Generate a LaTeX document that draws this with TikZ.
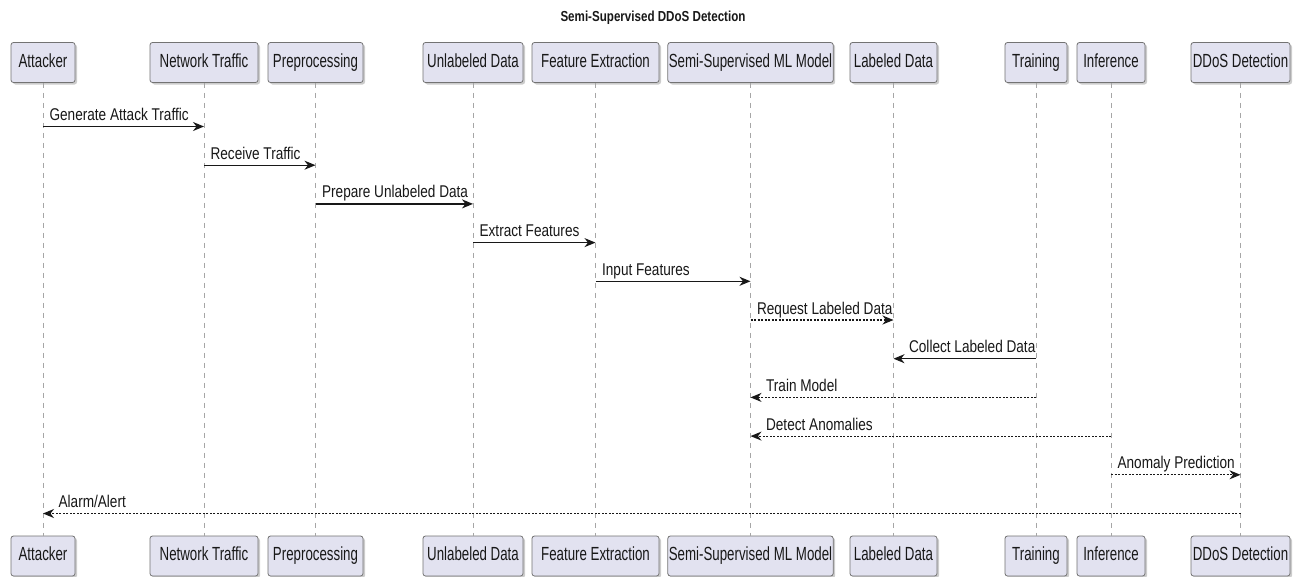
\documentclass[tikz,border=0pt]{standalone}
\usepackage{fontspec}
\usetikzlibrary{arrows.meta,shadows}
\newfontfamily\pfont[FakeStretch=0.7]{Liberation Sans}
\newfontfamily\mfont[FakeStretch=0.8]{Liberation Sans}
\definecolor{pfill}{HTML}{E2E2F0}
\definecolor{ink}{HTML}{181818}
\begin{document}
\begin{tikzpicture}[x=1pt,y=-1pt,
  part/.style={draw=black!55, line width=0.8pt, fill=pfill, rounded corners=2.5pt,
    minimum height=40pt, inner xsep=1pt, text=ink, text height=13.5pt, text depth=4pt,
    font=\pfont\fontsize{19}{21}\selectfont,
    drop shadow={shadow xshift=2pt,shadow yshift=-2pt,opacity=0.2,fill=black}},
  life/.style={draw=black!35, line width=0.8pt, dash pattern=on 5pt off 5pt},
  msg/.style={draw=ink, line width=1.2pt, -{Stealth[length=11pt,width=9pt,inset=3.5pt]}},
  ret/.style={msg, dash pattern=on 2pt off 1.5pt},
  lbl/.style={font=\mfont\fontsize{17}{19}\selectfont, text=ink, inner sep=0pt,
    anchor=base west, yshift=6pt},
  ttl/.style={font=\mfont\bfseries\fontsize{14.5}{16}\selectfont, text=ink, inner sep=0pt}
]
\useasboundingbox (0,0) rectangle (1306,576);
\fill[white] (0,0) rectangle (1306,576);

\node[ttl] (title) at (653,18) {Semi-Supervised DDoS Detection};

% participants (top and bottom)
\foreach \n/\x/\w/\t in {att/43/64/Attacker, net/204/108/Network Traffic,
  pre/315.5/95/Preprocessing, unl/473/100/Unlabeled Data,
  fe/595.5/127/Feature Extraction, ssml/750.5/163/Semi-Supervised ML Model,
  lab/893.5/87/Labeled Data, tra/1036/62/Training, inf/1111/68/Inference,
  dd/1240.5/99/DDoS Detection}{
  \node[part, minimum width=\w pt] (\n) at (\x,62.5) {\t};
  \node[part, minimum width=\w pt] (\n B) at (\x,556) {\t};
  \draw[life] (\n) -- (\n B);
}

% message rows
\foreach \i/\y in {1/126.5,2/165.2,3/203.9,4/242.6,5/281.3,6/320,7/358.7,
  8/397.4,9/436.1,10/474.8,11/513.5}{
  \coordinate (r\i) at (0,\y);
}

\draw[msg] (att |- r1) -- (net |- r1) node[lbl, pos=0, xshift=6pt] {Generate Attack Traffic};
\draw[msg] (net |- r2) -- (pre |- r2) node[lbl, pos=0, xshift=6pt] {Receive Traffic};
\draw[msg] (pre |- r3) -- (unl |- r3) node[lbl, pos=0, xshift=6pt] {Prepare Unlabeled Data};
\draw[msg] (unl |- r4) -- (fe |- r4) node[lbl, pos=0, xshift=6pt] {Extract Features};
\draw[msg] (fe |- r5) -- (ssml |- r5) node[lbl, pos=0, xshift=6pt] {Input Features};
\draw[ret] (ssml |- r6) -- (lab |- r6) node[lbl, pos=0, xshift=6pt] {Request Labeled Data};
\draw[msg] (tra |- r7) -- (lab |- r7) node[lbl, pos=1, xshift=15pt] {Collect Labeled Data};
\draw[ret] (tra |- r8) -- (ssml |- r8) node[lbl, pos=1, xshift=15pt] {Train Model};
\draw[ret] (inf |- r9) -- (ssml |- r9) node[lbl, pos=1, xshift=15pt] {Detect Anomalies};
\draw[ret] (inf |- r10) -- (dd |- r10) node[lbl, pos=0, xshift=6pt] {Anomaly Prediction};
\draw[ret] (dd |- r11) -- (att |- r11) node[lbl, pos=1, xshift=15pt] {Alarm/Alert};
\end{tikzpicture}
\end{document}
